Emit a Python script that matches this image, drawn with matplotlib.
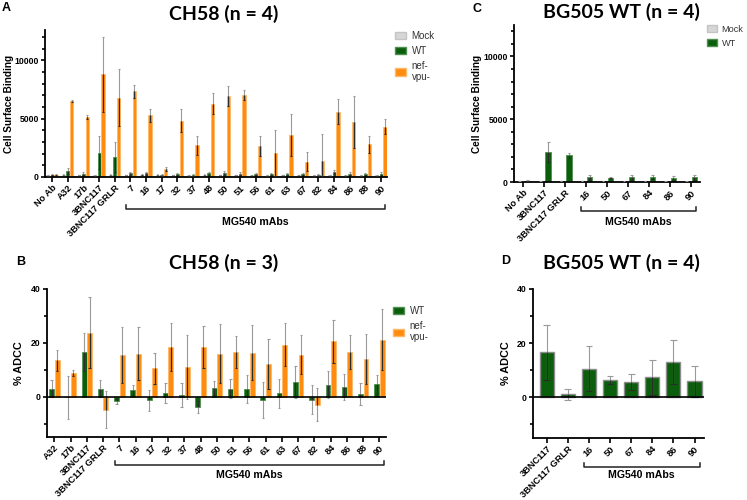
import numpy as np
import matplotlib.pyplot as plt
from matplotlib.ticker import FixedLocator
from matplotlib.patches import Patch
import matplotlib.transforms as mtransforms

# ---------------- data ----------------
LABELS_A = ["No Ab", "A32", "17b", "3BNC117", "3BNC117 GRLR", "7", "16", "17", "32", "37", "48",
            "50", "51", "56", "61", "63", "67", "82", "84", "86", "88", "90"]
MOCK_A = [150, 180, 170, 160, 200, 170, 200, 180, 170, 160, 180, 170, 170, 170, 160, 170, 170, 150, 160, 160, 150, 160]
MOCK_A_ERR = [30, 40, 40, 40, 60, 40, 60, 40, 40, 40, 40, 40, 40, 40, 40, 40, 40, 40, 40, 40, 40, 40]
WT_A = [200, 520, 300, 2100, 1720, 320, 310, 170, 250, 180, 320, 330, 300, 250, 230, 250, 230, 200, 420, 300, 250, 280]
WT_A_ERR = [40, 230, 100, 1400, 1250, 110, 120, 50, 110, 90, 120, 150, 150, 80, 80, 100, 90, 80, 200, 120, 90, 110]
NEF_A = [200, 6500, 5130, 8800, 6780, 7360, 5280, 720, 4820, 2720, 6290, 6940, 7030, 2650, 2060, 3620,
         1310, 1400, 5590, 4730, 2800, 4310]
NEF_A_ERR = [30, 110, 200, 3200, 2440, 560, 560, 180, 1000, 820, 900, 870, 470, 880, 1980, 1800,
             800, 2250, 1080, 2210, 730, 660]

LABELS_B = ["A32", "17b", "3BNC117", "3BNC117 GRLR", "7", "16", "17", "32", "37", "48",
            "50", "51", "56", "61", "63", "67", "82", "84", "86", "88", "90"]
WT_B = [3.0, -0.3, 16.6, 3.0, -1.8, 2.4, -1.4, 1.4, 0.5, -3.8, 3.3, 3.0, 2.8, -1.2, 1.2, 5.5, -1.1, 4.5, 3.6, 0.9, 4.6]
WT_B_ERR = [3.0, 8.0, 7.2, 3.0, 0.9, 1.9, 3.9, 3.6, 4.5, 2.2, 2.6, 3.5, 5.3, 6.8, 5.4, 6.0, 5.4, 5.0, 4.9, 4.1, 3.5]
NEF_B = [13.5, 8.8, 23.8, -4.9, 15.3, 16.0, 10.5, 18.5, 11.0, 18.4, 16.0, 16.6, 16.4, 12.3, 19.3, 15.6,
         -3.0, 20.5, 16.6, 13.9, 21.2]
NEF_B_ERR = [3.8, 1.0, 13.1, 6.9, 10.4, 9.9, 5.8, 8.9, 12.0, 7.8, 10.9, 5.9, 10.4, 9.3, 8.0, 7.2,
             6.1, 8.0, 6.4, 9.2, 11.3]

LABELS_C = ["No Ab", "3BNC117", "3BNC117 GRLR", "16", "50", "67", "84", "86", "90"]
MOCK_C = [60, 50, 60, 60, 40, 50, 80, 40, 50]
MOCK_C_ERR = [20, 20, 20, 20, 15, 20, 30, 15, 20]
WT_C = [110, 2360, 2140, 360, 350, 360, 400, 350, 370]
WT_C_ERR = [30, 800, 200, 230, 60, 200, 180, 160, 210]

LABELS_D = ["3BNC117", "3BNC117 GRLR", "16", "50", "67", "84", "86", "90"]
WT_D = [16.6, 1.2, 10.6, 6.3, 5.8, 7.4, 13.0, 6.0]
WT_D_ERR = [10.1, 2.0, 8.2, 1.5, 3.0, 6.4, 8.2, 5.7]

MG540_START = {"A": 5, "B": 4, "C": 3, "D": 2}   # first MG540 mAb index per panel

# ---------------- style ----------------
ORANGE, ORANGE_EDGE = "#ff8c0f", "#ffb866"
GREEN, GREEN_EDGE = "#0b5e0b", "#4f8f4f"
MOCK, MOCK_EDGE = "#d6d6d6", "#c4c4c4"
ERR_LIGHT, ERR_DARK = "#9a9a9a", "#2b2b2b"
TICK_FONT = "Liberation Sans"
TITLE_FONT = "Lato"

W, H = 747, 500


def fig_rect(left, top, right, bottom):
    """pixel box -> figure fraction rect"""
    return [left / W, 1 - bottom / H, (right - left) / W, (bottom - top) / H]


def bars(ax, x, vals, errs, width, color, edge, lw=0.6, cap=0.07):
    x = np.asarray(x, float)
    vals = np.asarray(vals, float)
    errs = np.asarray(errs, float)
    ax.bar(x, vals, width, color=color, edgecolor=edge, linewidth=lw, zorder=2)
    lo, hi = vals - errs, vals + errs
    ax.vlines(x, lo, hi, color=ERR_LIGHT, lw=0.8, zorder=3)
    # part of the error bar that sits over the bar looks darker
    in_lo = np.where(vals >= 0, np.maximum(lo, 0), vals)
    in_hi = np.where(vals >= 0, vals, np.minimum(hi, 0))
    ok = in_hi > in_lo
    ax.vlines(x[ok], in_lo[ok], in_hi[ok], color=ERR_DARK, lw=0.8, zorder=4)
    for xi, v, l, h in zip(x, vals, lo, hi):
        for yy in (l, h):
            inside = (0 <= yy <= v) if v >= 0 else (v <= yy <= 0)
            ax.hlines(yy, xi - cap, xi + cap, color=ERR_DARK if inside else ERR_LIGHT,
                      lw=0.8, zorder=4)


def style_axis(ax, labels, xlim, ylim, major, minor):
    ax.set_xlim(*xlim)
    ax.set_ylim(*ylim)
    for s in ("top", "right"):
        ax.spines[s].set_visible(False)
    for s in ("left", "bottom"):
        ax.spines[s].set_linewidth(1.3)
    ax.set_xticks(np.arange(len(labels)))
    ax.set_xticklabels(labels, rotation=45, ha="right", rotation_mode="anchor",
                       fontsize=6.7, fontweight="bold", family=TICK_FONT)
    ax.yaxis.set_major_locator(FixedLocator(major))
    ax.yaxis.set_minor_locator(FixedLocator(minor))
    ax.tick_params(axis="x", length=3.5, width=1.2, pad=1)
    ax.tick_params(axis="y", which="major", length=3, width=1.2, pad=1.5, labelsize=6.2)
    ax.tick_params(axis="y", which="minor", length=2.5, width=1.2)
    for t in ax.get_yticklabels():
        t.set_fontweight("bold")
        t.set_family(TICK_FONT)


def bracket(ax, first, last, y_line, y_text, text="MG540 mAbs"):
    tr = mtransforms.blended_transform_factory(ax.transData, ax.transAxes)
    x0, x1 = first - 0.25, last + 0.25
    ax.plot([x0, x0, x1, x1], [y_line + 0.025, y_line, y_line, y_line + 0.025],
            color="#222222", lw=1.1, transform=tr, clip_on=False)
    ax.text((x0 + x1) / 2, y_text, text, transform=tr, ha="center", va="center",
            fontsize=7.6, fontweight="bold", family=TICK_FONT)


plt.rcParams["font.family"] = ["Liberation Sans", "DejaVu Sans"]
fig = plt.figure(figsize=(W / 100, H / 100), dpi=100)

# ---------------- panel A ----------------
axA = fig.add_axes(fig_rect(45, 30, 387, 177))
xa = np.arange(len(LABELS_A))
bars(axA, xa - 0.27, MOCK_A, MOCK_A_ERR, 0.17, MOCK, MOCK_EDGE, cap=0.06)
bars(axA, xa, WT_A, WT_A_ERR, 0.19, GREEN, GREEN_EDGE, cap=0.06)
bars(axA, xa + 0.25, NEF_A, NEF_A_ERR, 0.2, ORANGE, ORANGE_EDGE, cap=0.06)
style_axis(axA, LABELS_A, (-0.45, len(LABELS_A) - 0.62), (0, 12600),
           [0, 5000, 10000], np.arange(1000, 12001, 1000))
axA.set_ylabel("Cell Surface Binding", fontsize=7.2, fontweight="bold", labelpad=0)
bracket(axA, MG540_START["A"], len(LABELS_A) - 1, -0.218, -0.305)

# ---------------- panel B ----------------
axB = fig.add_axes(fig_rect(47, 289, 386, 437))
xb = np.arange(len(LABELS_B))
bars(axB, xb - 0.17, WT_B, WT_B_ERR, 0.3, GREEN, GREEN_EDGE, cap=0.07)
bars(axB, xb + 0.17, NEF_B, NEF_B_ERR, 0.3, ORANGE, ORANGE_EDGE, cap=0.07)
axB.axhline(0, color="black", lw=1.2, zorder=5)
style_axis(axB, LABELS_B, (-0.45, len(LABELS_B) - 0.6), (-15, 40),
           [0, 20, 40], [-10, 10, 30])
axB.set_ylabel("% ADCC", fontsize=7.8, fontweight="bold", labelpad=5)
bracket(axB, MG540_START["B"], len(LABELS_B) - 1, -0.19, -0.255)

# ---------------- panel C ----------------
axC = fig.add_axes(fig_rect(514, 25, 700, 182))
xc = np.arange(len(LABELS_C))
bars(axC, xc - 0.19, MOCK_C, MOCK_C_ERR, 0.17, MOCK, "#555555", cap=0.06)
bars(axC, xc + 0.18, WT_C, WT_C_ERR, 0.25, GREEN, GREEN_EDGE, cap=0.07)
style_axis(axC, LABELS_C, (-0.45, len(LABELS_C) - 0.55), (0, 12500),
           [0, 5000, 10000], np.arange(1000, 12001, 1000))
axC.set_ylabel("Cell Surface Binding", fontsize=7.2, fontweight="bold", labelpad=1)
bracket(axC, MG540_START["C"], len(LABELS_C) - 1, -0.185, -0.255)

# ---------------- panel D ----------------
axD = fig.add_axes(fig_rect(533, 289, 704, 438))
xd = np.arange(len(LABELS_D))
bars(axD, xd, WT_D, WT_D_ERR, 0.67, GREEN, "#8c8c8c", lw=1.0, cap=0.16)
axD.axhline(0, color="black", lw=1.2, zorder=5)
style_axis(axD, LABELS_D, (-0.65, len(LABELS_D) - 0.55), (-15, 40),
           [0, 20, 40], [-10, 10, 30])
axD.set_ylabel("% ADCC", fontsize=7.8, fontweight="bold", labelpad=4)
bracket(axD, MG540_START["D"], len(LABELS_D) - 1, -0.195, -0.25)

# ---------------- legends ----------------
h_mock = Patch(facecolor=MOCK, edgecolor=MOCK_EDGE)
h_wt = Patch(facecolor=GREEN, edgecolor=GREEN_EDGE)
h_nef = Patch(facecolor=ORANGE, edgecolor=ORANGE_EDGE)
leg_kw = dict(loc="upper left", frameon=False, fontsize=7, handlelength=1.1, handleheight=0.8,
              handletextpad=0.6, labelspacing=0.5, borderaxespad=0, borderpad=0,
              labelcolor="#333333")
fig.legend([h_mock, h_wt, h_nef], ["Mock", "WT", "nef-\nvpu-"],
           bbox_to_anchor=(395 / W, 1 - 31 / H), **leg_kw)
fig.legend([h_wt, h_nef], ["WT", "nef-\nvpu-"],
           bbox_to_anchor=(393 / W, 1 - 306 / H), **leg_kw)
leg_c = dict(leg_kw, fontsize=6.6, handletextpad=0.5)
fig.legend([h_mock, h_wt], ["Mock", "WT"],
           bbox_to_anchor=(707 / W, 1 - 25 / H), **leg_c)

# ---------------- titles & panel letters ----------------
title_kw = dict(ha="center", va="center", fontsize=14, fontweight="bold", family=TITLE_FONT)
fig.text(224 / W, 1 - 14 / H, "CH58 (n = 4)", **title_kw)
fig.text(224 / W, 1 - 263 / H, "CH58 (n = 3)", **title_kw)
fig.text(621 / W, 1 - 12 / H, "BG505 WT (n = 4)", **title_kw)
fig.text(621 / W, 1 - 263 / H, "BG505 WT (n = 4)", **title_kw)

letter_kw = dict(ha="center", va="center", fontsize=9, fontweight="bold")
fig.text(6 / W, 1 - 8 / H, "A", **letter_kw)
fig.text(21 / W, 1 - 262 / H, "B", **letter_kw)
fig.text(477 / W, 1 - 9 / H, "C", **letter_kw)
fig.text(506 / W, 1 - 261 / H, "D", **letter_kw)

fig.savefig("out.png", dpi=100)
